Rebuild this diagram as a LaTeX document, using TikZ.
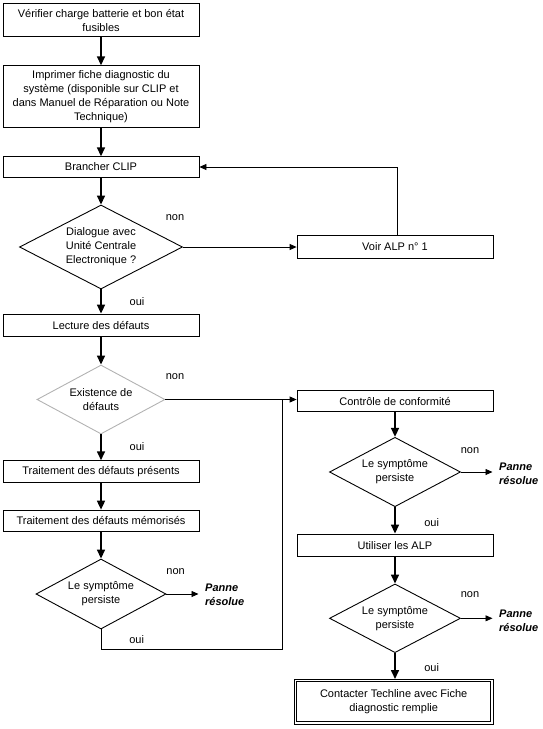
\documentclass[tikz,border=0pt]{standalone}
\usepackage{fontspec}
\setmainfont{Liberation Sans}
\usetikzlibrary{shapes.geometric,arrows.meta}
\begin{document}
\begin{tikzpicture}[x=1pt,y=-1pt,
  every node/.style={font=\fontsize{11}{14}\selectfont},
  box/.style={draw, line width=0.8pt, rectangle, minimum width=196pt, inner sep=0pt, align=center},
  dec/.style={draw, line width=0.9pt, diamond, aspect=2, inner sep=0pt, align=center},
  lbl/.style={inner sep=0pt},
  fin/.style={inner xsep=6.5pt, inner ysep=0pt, align=left, anchor=west, font=\fontsize{11}{14}\selectfont\bfseries\itshape},
  flow/.style={line width=1.6pt, -{Triangle[length=9pt,width=8pt]}},
  thinflow/.style={line width=0.8pt, -{Triangle[length=7pt,width=6pt]}},
  link/.style={line width=0.8pt}]
\useasboundingbox (0,0) rectangle (543,729);

% left column
\node[box, minimum height=33.5pt] (b1) at (101,20) {Vérifier charge batterie et bon état\\fusibles};
\node[box, minimum height=62pt] (b2) at (101,96.7) {Imprimer fiche diagnostic du\\système (disponible sur CLIP et\\dans Manuel de Réparation ou Note\\Technique)};
\node[box, minimum height=20.6pt] (b3) at (101,167) {Brancher CLIP};
\node[dec, minimum width=163pt, minimum height=84pt] (d1) at (101,247) {Dialogue avec\\Unité Centrale\\Electronique ?};
\node[box, minimum height=22.6pt] (alp) at (395,247) {Voir ALP n° 1};
\node[box, minimum height=22pt] (b4) at (101,325) {Lecture des défauts};
\node[dec, draw=gray!60, minimum width=128pt, minimum height=69pt] (d2) at (101,399.5) {Existence de\\défauts};
\node[box, minimum height=21.3pt] (b5) at (101,471.3) {Traitement des défauts présents};
\node[box, minimum height=21.5pt] (b6) at (101,520.8) {Traitement des défauts mémorisés};
\node[dec, minimum width=130pt, minimum height=70pt] (d3) at (101,594) {Le symptôme\\persiste};
\node[fin] (p3) at (198.5,594.5) {Panne\\résolue};

% right column
\node[box, minimum height=21.7pt] (c1) at (395,401) {Contrôle de conformité};
\node[dec, minimum width=131pt, minimum height=69.4pt] (d4) at (395,472) {Le symptôme\\persiste};
\node[fin] (p4) at (492.5,473.3) {Panne\\résolue};
\node[box, minimum height=22.7pt] (c2) at (395,545.3) {Utiliser les ALP};
\node[dec, minimum width=131pt, minimum height=68.7pt] (d5) at (395,618.3) {Le symptôme\\persiste};
\node[fin] (p5) at (492.5,620.3) {Panne\\résolue};
\node[box, minimum width=199pt, minimum height=44.6pt] (c3) at (393.7,701.7) {Contacter Techline avec Fiche\\diagnostic remplie};
\draw[line width=0.8pt] ([xshift=3pt,yshift=-2.6pt]c3.north west) rectangle ([xshift=-3pt,yshift=2.6pt]c3.south east);

% labels
\node[lbl] (n1) at (175,217.3) {non};
\node[lbl] (n2) at (175,377) {non};
\node[lbl] (n3) at (175.6,571.7) {non};
\node[lbl] (n4) at (470,450.7) {non};
\node[lbl] (n5) at (470,595) {non};
\node[lbl] (o1) at (137,302) {oui};
\node[lbl] (o2) at (137,447) {oui};
\node[lbl] (o3) at (136.7,640) {oui};
\node[lbl] (o4) at (431.7,522.7) {oui};
\node[lbl] (o5) at (431.7,667.3) {oui};

% main flow
\draw[flow] (b1) -- (b2);
\draw[flow] (b2) -- (b3);
\draw[flow] (b3) -- (d1);
\draw[flow] (d1) -- (b4);
\draw[flow] (b4) -- (d2);
\draw[flow] (d2) -- (b5);
\draw[flow] (b5) -- (b6);
\draw[flow] (b6) -- (d3);
\draw[flow] (c1) -- (d4);
\draw[flow] (d4) -- (c2);
\draw[flow] (c2) -- (d5);
\draw[flow] (d5) -- (d5.south |- c3.north);

% side connections
\draw[thinflow] (d1.east) -- (alp.west);
\draw[thinflow] ([xshift=2pt]alp.north) |- (b3.east);
\draw[thinflow] (d2.east) -- (d2.east -| c1.west);
\coordinate (j1) at (282,649);
\draw[link] (d3.south) |- (j1) -- (j1 |- d2.east);
\draw[thinflow] (d3.east) -- (d3.east -| p3.west);
\draw[thinflow] (d4.east) -- (d4.east -| p4.west);
\draw[thinflow] (d5.east) -- (d5.east -| p5.west);
\end{tikzpicture}
\end{document}
